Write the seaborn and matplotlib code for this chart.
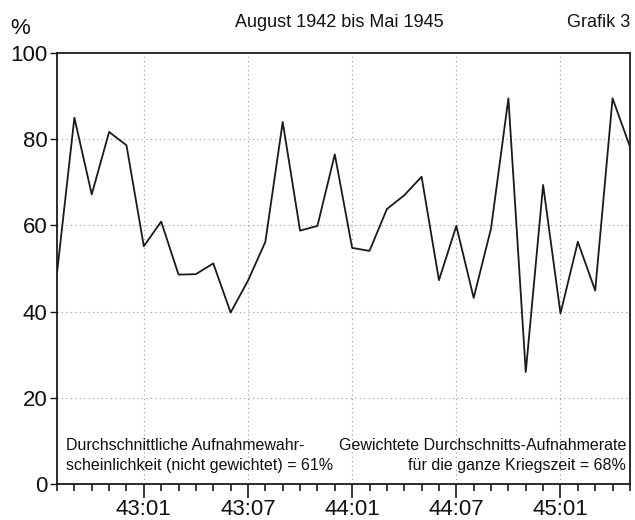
import numpy as np
import pandas as pd
import matplotlib
matplotlib.use("Agg")
import matplotlib.pyplot as plt
import seaborn as sns

# monthly values, August 1942 to May 1945
months = pd.period_range("1942-08", "1945-05", freq="M")
rate = [49.0, 85.0, 67.2, 81.7, 78.6, 55.2, 60.9, 48.6, 48.7, 51.2,
        39.8, 47.2, 56.2, 84.0, 58.8, 59.9, 76.5, 54.8, 54.1, 63.8,
        67.0, 71.3, 47.3, 59.9, 43.2, 59.3, 89.5, 26.0, 69.4, 39.6,
        56.2, 44.9, 89.5, 78.3]
major_labels = ["43:01", "43:07", "44:01", "44:07", "45:01"]
y_ticks = [0, 20, 40, 60, 80, 100]

sns.set_style("white")
plt.rcParams["font.family"] = ["Liberation Sans", "DejaVu Sans"]
plt.rcParams["text.color"] = "#111111"
plt.rcParams["xtick.color"] = "#111111"
plt.rcParams["ytick.color"] = "#111111"

df = pd.DataFrame({"idx": np.arange(len(months)), "rate": rate})
major_idx = [i for i, p in enumerate(months) if p.month in (1, 7)]

fig = plt.figure(figsize=(6.35, 5.2), dpi=100)
ax = fig.add_axes([0.0898, 0.069, 0.9022, 0.829])

sns.lineplot(data=df, x="idx", y="rate", ax=ax, color="#1a1a1a", linewidth=1.3)

ax.set_xlim(0, len(months) - 1)
ax.set_ylim(0, 100)
ax.set_xlabel("")
ax.set_ylabel("")

ax.set_yticks(y_ticks)
ax.set_yticklabels([str(v) for v in y_ticks], fontsize=16)
ax.set_xticks(major_idx)
ax.set_xticklabels(major_labels, fontsize=16)
ax.set_xticks(df["idx"], minor=True)
ax.tick_params(axis="x", which="both", bottom=True, direction="out", width=1.2, color="#1a1a1a")
ax.tick_params(axis="x", which="major", length=10, pad=1)
ax.tick_params(axis="x", which="minor", length=5)
ax.tick_params(axis="y", left=True, direction="out", length=5, width=1.0, pad=2, color="#1a1a1a")

for s in ax.spines.values():
    s.set_color("#1a1a1a")
    s.set_linewidth(1.3)

for v in [20, 40, 60, 80]:
    ax.axhline(v, color="#999999", linestyle=(0, (1, 3)), linewidth=0.8, zorder=0)
for v in major_idx:
    ax.axvline(v, color="#999999", linestyle=(0, (1, 3)), linewidth=0.8, zorder=0)

ax.text(0.015, 0.025, "Durchschnittliche Aufnahmewahr-\nscheinlichkeit (nicht gewichtet) = 61%",
        transform=ax.transAxes, fontsize=11.5, ha="left", va="bottom", linespacing=1.45)
ax.text(0.993, 0.025, "Gewichtete Durchschnitts-Aufnahmerate\nfür die ganze Kriegszeit = 68%",
        transform=ax.transAxes, fontsize=11.5, ha="right", va="bottom", multialignment="right",
        linespacing=1.45)

fig.text(0.016, 0.946, "%", fontsize=16, ha="left", va="center")
fig.text(0.535, 0.956, "August 1942 bis Mai 1945", fontsize=13, ha="center", va="center")
fig.text(0.992, 0.956, "Grafik 3", fontsize=13, ha="right", va="center")

fig.savefig("out.png", dpi=100)
